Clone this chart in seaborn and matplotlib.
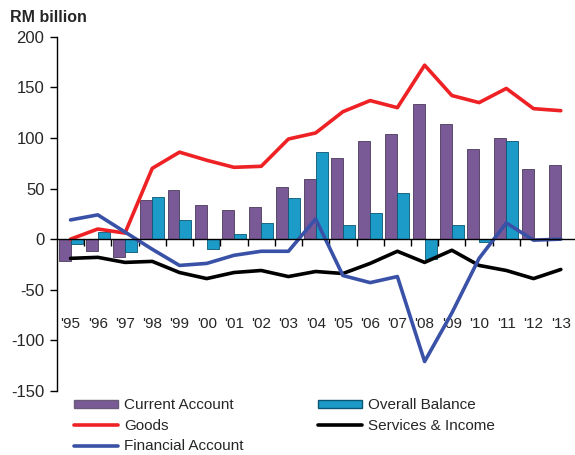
import pandas as pd
import seaborn as sns
import matplotlib.pyplot as plt
from matplotlib.lines import Line2D
from matplotlib.patches import Patch

# data
years = ["'95", "'96", "'97", "'98", "'99", "'00", "'01", "'02", "'03", "'04",
         "'05", "'06", "'07", "'08", "'09", "'10", "'11", "'12", "'13"]
current_account = [-22, -12, -18, 39, 49, 34, 29, 32, 52, 59,
                   80, 97, 104, 134, 114, 89, 100, 69, 73]
overall_balance = [-5, 7, -13, 42, 19, -10, 5, 16, 41, 86,
                   14, 26, 46, -20, 14, -3, 97, 0, 0]
goods = [0, 10, 6, 70, 86, 78, 71, 72, 99, 105,
         126, 137, 130, 172, 142, 135, 149, 129, 127]
services_income = [-19, -18, -23, -22, -33, -39, -33, -31, -37, -32,
                   -34, -24, -12, -23, -11, -26, -31, -39, -30]
financial_account = [19, 24, 7, -10, -26, -24, -16, -12, -12, 20,
                     -36, -43, -37, -121, -73, -19, 16, -1, 0]

purple = '#7A5A96'
teal = '#1C9BC9'
red = '#EE2124'
black = '#000000'
blue = '#3A51A8'

sns.set_style('white')
plt.rcParams['font.family'] = ['Liberation Sans', 'DejaVu Sans']
plt.rcParams['axes.unicode_minus'] = False

bars = pd.DataFrame({'year': years * 2,
                     'value': current_account + overall_balance,
                     'series': ['Current Account'] * len(years) + ['Overall Balance'] * len(years)})

fig, ax = plt.subplots(figsize=(5.75, 4.55), dpi=100)
fig.subplots_adjust(left=0.099, right=0.999, top=0.919, bottom=0.141)

sns.barplot(data=bars, x='year', y='value', hue='series', order=years,
            palette=[purple, teal], width=0.88, ax=ax, legend=False,
            edgecolor='#4a3a5a', linewidth=0.6, saturation=1)
# darker edge for teal bars
for p in ax.patches[len(years):]:
    p.set_edgecolor('#0b5673')

x = list(range(len(years)))
sns.lineplot(x=x, y=goods, color=red, lw=2.6, ax=ax)
sns.lineplot(x=x, y=services_income, color=black, lw=2.6, ax=ax)
sns.lineplot(x=x, y=financial_account, color=blue, lw=2.6, ax=ax)
for ln in ax.lines:
    ln.set_solid_joinstyle('round')
    ln.set_solid_capstyle('round')

ax.set_xlim(-0.5, len(years) - 0.5)
ax.set_ylim(-150, 200)
ax.set_yticks(range(-150, 201, 50))
ax.set_xlabel('')
ax.set_ylabel('')

for s in ['top', 'right']:
    ax.spines[s].set_visible(False)
ax.spines['bottom'].set_position(('data', 0))
for s in ['left', 'bottom']:
    ax.spines[s].set_linewidth(1.0)
    ax.spines[s].set_color('black')

# year labels far below the zero line, tick marks at category boundaries
ax.set_xticks(x)
ax.set_xticklabels(years, fontsize=11)
ax.tick_params(axis='x', which='major', length=0, pad=56)
ax.set_xticks([i + 0.5 for i in range(len(years) - 1)], minor=True)
ax.tick_params(axis='x', which='minor', length=5, width=1, direction='out', color='black')
ax.tick_params(axis='y', length=5, width=1, direction='out', color='black', labelsize=12, pad=4)
ax.tick_params(left=True, bottom=True, which='both')

fig.text(0.017, 0.962, 'RM billion', fontsize=11.5, fontweight='bold', va='center')

handles = [
    Patch(facecolor=purple, edgecolor='#6a5a7a'),
    Line2D([], [], color=red, lw=2.6),
    Line2D([], [], color=blue, lw=2.6),
    Patch(facecolor=teal, edgecolor='#0b5673'),
    Line2D([], [], color=black, lw=2.6),
]
labels = ['Current Account', 'Goods', 'Financial Account', 'Overall Balance', 'Services & Income']
fig.legend(handles, labels, ncol=2, loc='upper left', bbox_to_anchor=(0.115, 0.141),
           frameon=False, fontsize=11, handlelength=2.9, handleheight=0.45,
           labelspacing=0.42, columnspacing=4.85, handletextpad=0.4, borderpad=0)

plt.savefig('out.png', dpi=100)
plt.close()
